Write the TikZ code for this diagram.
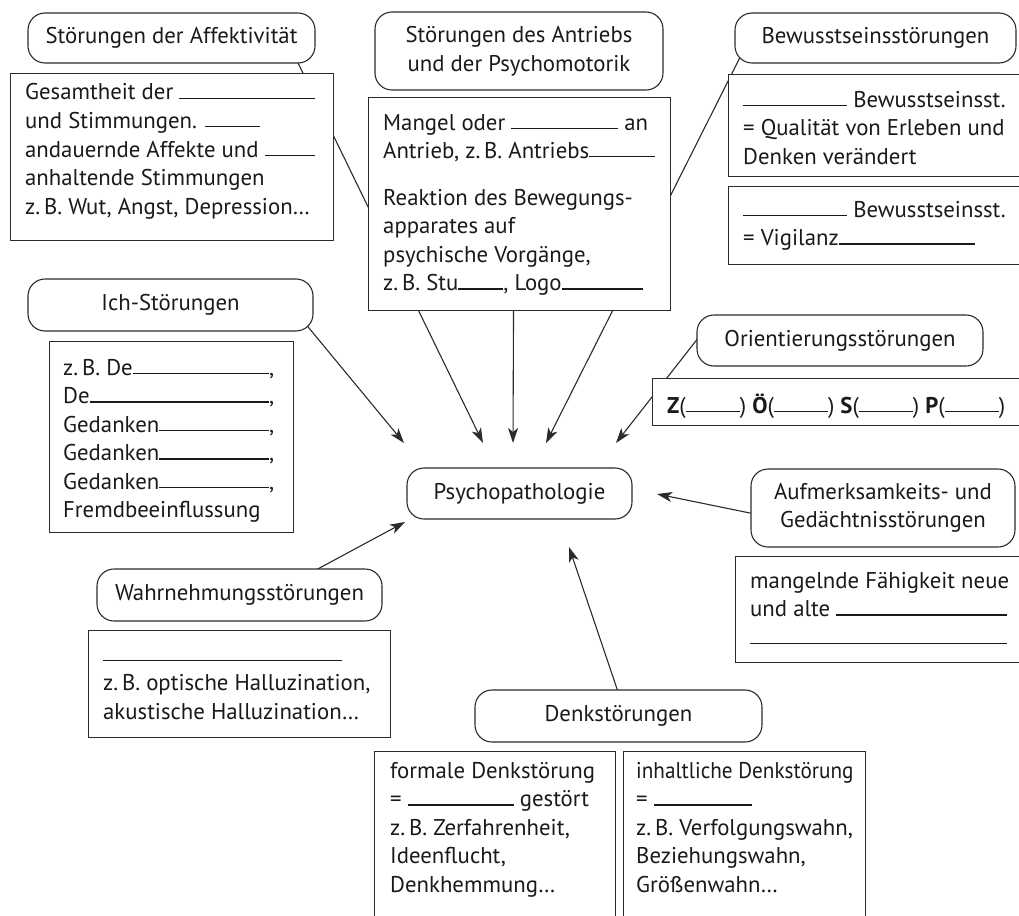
\documentclass[tikz,border=0pt]{standalone}
\usepackage{fontspec}
\usepackage{graphicx}
\setmainfont{PT Sans}
\usetikzlibrary{arrows.meta,calc}
\pgfdeclarelayer{bg}
\pgfsetlayers{bg,main}
\newlength\calw
\newcommand\bl[1]{\rule[1pt]{#1}{1.1pt}}
\newcommand\fillline{\leaders\hrule height 2.1pt depth -1pt\hfill}
\newcommand\fl[2]{\hbox to #1{#2}}
\newcommand\rows[1]{\begin{tabular}[t]{@{}l@{}}#1\end{tabular}}
\definecolor{lc}{HTML}{2B2B2B}
\definecolor{tc}{HTML}{1A1A1A}
\AtBeginDocument{%
  \settowidth\calw{\normalfont\fontsize{10pt}{12pt}\selectfont PsychopathologieOrientierungsstörungenFremdbeeinflussung}%
  \pgfmathsetmacro\fsz{6000/\calw}%
  \xdef\fsz{\fsz}%
}
\newcommand\tf{\fontsize{\fsz pt}{28.5pt}\selectfont}
\begin{document}
\begin{tikzpicture}[x=1pt,y=-1pt,
  bub/.style={draw=lc, line width=1.1pt, fill=white, rounded corners=17pt, inner sep=0pt, align=center, font=\tf, text=tc},
  box/.style={draw=lc, line width=1.1pt, fill=white, inner sep=0pt, anchor=north west},
  txt/.style={inner sep=0pt, anchor=base west, font=\tf, text=tc},
  arr/.style={draw=lc, line width=1.1pt, -{Stealth[length=15pt,width=10pt,inset=4pt]}}]
\useasboundingbox (0,0) rectangle (1019,915);
\clip (0,0) rectangle (1019,915);

% boxes
\node[box, minimum width=323pt, minimum height=167pt] (affbox) at (10,73) {};
\node[box, minimum width=302pt, minimum height=213pt] (antbox) at (368,97) {};
\node[box, minimum width=302pt, minimum height=102pt] (bewbox1) at (728,74) {};
\node[box, minimum width=302pt, minimum height=78pt] (bewbox2) at (728,186) {};
\node[box, minimum width=244pt, minimum height=191pt] (ichbox) at (49,341) {};
\node[box, minimum width=378pt, minimum height=47pt] (oribox) at (652,378) {};
\node[box, minimum width=295pt, minimum height=106pt] (aufbox) at (735,556) {};
\node[box, minimum width=302pt, minimum height=107pt] (wahrbox) at (88,630) {};
\node[box, minimum width=241pt, minimum height=190pt] (denkbox1) at (374,751) {};
\node[box, minimum width=242pt, minimum height=190pt] (denkbox2) at (623,751) {};

% bubbles
\node[bub, minimum width=287pt, minimum height=50pt] (affbub) at (171.5,38) {Störungen der Affektivität};
\node[bub, minimum width=288pt, minimum height=78pt] (antbub) at (519,51) {Störungen des Antriebs\\und der Psychomotorik};
\node[bub, minimum width=281pt, minimum height=50pt] (bewbub) at (875.5,38) {Bewusstseinsstörungen};
\node[bub, minimum width=285pt, minimum height=52pt] (ichbub) at (170.5,305) {Ich-Störungen};
\node[bub, minimum width=286pt, minimum height=51pt] (oribub) at (840,340.5) {Orientierungsstörungen};
\node[bub, minimum width=225pt, minimum height=51pt] (psybub) at (519.5,493.5) {Psychopathologie};
\node[bub, minimum width=264pt, minimum height=78pt] (aufbub) at (883,508) {Aufmerksamkeits- und\\Gedächtnisstörungen};
\node[bub, minimum width=285pt, minimum height=52pt] (wahrbub) at (239.5,595) {Wahrnehmungsstörungen};
\node[bub, minimum width=287pt, minimum height=52pt] (denkbub) at (618.5,716) {Denkstörungen};

% texts
\node[txt] (afftxt) at (25,100) {\rows{%
\fl{290pt}{Gesamtheit der \fillline}\\
und Stimmungen. \bl{55pt}\\
\fl{290pt}{andauernde Affekte und \fillline}\\
anhaltende Stimmungen\\
z.\,B. Wut, Angst, Depression…}};

\node[txt] (anttxt) at (383,130) {\rows{%
\fl{265pt}{Mangel oder \fillline\ an}\\
\fl{272pt}{Antrieb, z.\,B. Antriebs\fillline}\\[18pt]
Reaktion des Bewegungs-\\
apparates auf\\
psychische Vorgänge,\\
\fl{260pt}{z.\,B. Stu\bl{45pt}, Logo\fillline}}};

\node[txt] (bewtxt1) at (743,107) {\rows{%
\bl{104pt} Bewusstseinsst.\\
= Qualität von Erleben und\\
Denken verändert}};

\node[txt] (bewtxt2) at (743,217) {\rows{%
\bl{104pt} Bewusstseinsst.\\
= Vigilanz\bl{136pt}}};

\node[txt] (ichtxt) at (63,375) {\rows{%
\fl{206pt}{z.\,B. De\fillline},\\
\fl{206pt}{De\fillline},\\
\fl{206pt}{Gedanken\fillline},\\
\fl{206pt}{Gedanken\fillline},\\
\fl{206pt}{Gedanken\fillline},\\
Fremdbeeinflussung}};

\node[txt] (oritxt) at (667,413) {\fl{338pt}{\textbf{Z}(\fillline)\ \textbf{Ö}(\fillline)\ \textbf{S}(\fillline)\ \textbf{P}(\fillline)}};

\node[txt] (auftxt) at (750,588) {\rows{%
mangelnde Fähigkeit neue\\
\fl{257pt}{und alte \fillline}\\
\bl{257pt}}};

\node[txt] (wahrtxt) at (103,662) {\rows{%
\bl{239pt}\\
z.\,B. optische Halluzination,\\
akustische Halluzination…}};

\node[txt] (denktxt1) at (390,778) {\rows{%
formale Denkstörung\\
= \bl{106pt} gestört\\
z.\,B. Zerfahrenheit,\\
Ideenflucht,\\
Denkhemmung…}};

\node[txt] (denktxt2) at (636,778) {\rows{%
\scalebox{0.93}[1]{inhaltliche Denkstörung}\\
= \bl{98pt}\\
z.\,B. Verfolgungswahn,\\
Beziehungswahn,\\
Größenwahn…}};

% arrow tips
\coordinate (t1) at (483,443);
\coordinate (t2) at (513,443);
\coordinate (t3) at (546,443);
\coordinate (t4) at (404,443);
\coordinate (t5) at (616,443);
\coordinate (t6) at (657,494);
\coordinate (t7) at (405,522);
\coordinate (t8) at (569,547);

\begin{pgfonlayer}{bg}
\draw[arr] ($(affbub.south east)+(-26,-18)$) -- (t1);
\draw[arr] ($(antbox.south)+(-6,-5)$) -- (t2);
\draw[arr] ($(bewbub.south west)+(13,-21)$) -- (t3);
\draw[arr] ($(ichbub.south east)+(-19,-21)$) -- (t4);
\draw[arr] ($(oribub.west)+(15,-19.5)$) -- (t5);
\draw[arr] ($(aufbub.west)+(19,9)$) -- (t6);
\draw[arr] ($(wahrbub.north)+(49.5,16)$) -- (t7);
\draw[arr] ($(denkbub.north)+(5.5,20)$) -- (t8);
\end{pgfonlayer}
\end{tikzpicture}
\end{document}
